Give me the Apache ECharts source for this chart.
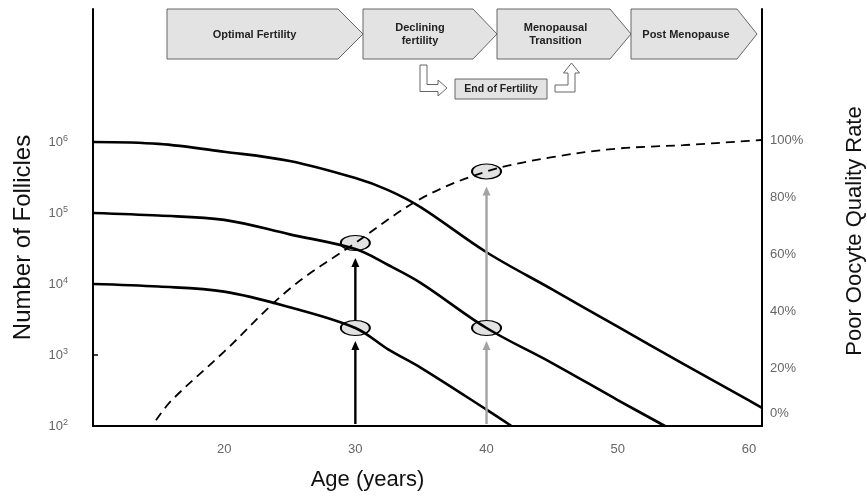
<!DOCTYPE html>
<html>
<head>
<meta charset="utf-8">
<script src="https://cdn.jsdelivr.net/npm/echarts@6/dist/echarts.min.js"></script>
<style>
  html, body { margin: 0; padding: 0; background: #fff; }
  #chart { width: 867px; height: 501px; }
</style>
</head>
<body>
<div id="chart"></div>
<script>
// Follicle pools (count, log scale) by age in years
const agesA = [10, 15, 20, 25, 30, 32.5, 35, 40, 45, 50, 55, 60, 61];
const folliclesA = [1000000, 940000, 730000, 540000, 310000, 210000, 120000, 28000, 8400, 2500, 750, 230, 180];
const agesB = [10, 15, 20, 25, 30, 32.5, 35, 40, 45, 50, 53.6];
const folliclesB = [100000, 92000, 80000, 50000, 31000, 18500, 10300, 2400, 770, 232, 100];
const agesC = [10, 15, 20, 25, 30, 32.5, 35, 40, 41.9];
const folliclesC = [10000, 9200, 7800, 4700, 2400, 1200, 660, 170, 100];

// Poor oocyte quality rate (%) by age
const agesQ = [14.8, 16, 20, 25, 30, 35, 40, 45, 50, 55, 60, 61];
const poorRate = [2, 9, 26, 48, 64, 79.5, 89, 94, 97, 98.2, 99.7, 100];

// Highlighted ages: follicle count on the lower curve and poor-quality rate
const markerAges = [30, 40];
const lowFollicles = [2400, 2400];
const highPoorRate = [64, 89];

// Axis ticks
const ageTicks = [20, 30, 40, 50, 60];
const follicleExponents = [2, 3, 4, 5, 6];
const rateTicks = [0, 20, 40, 60, 80, 100];

// Reproductive phases across the top
const phaseLabels = ['Optimal Fertility', 'Declining\nfertility', 'Menopausal\nTransition', 'Post Menopause'];
const endLabel = 'End of Fertility';

(function () {
const FONT = '"Liberation Sans", Arial, Helvetica, sans-serif';
const chart = echarts.init(document.getElementById('chart'), null, { renderer: 'canvas' });

const toLog = (ages, counts) => ages.map((a, i) => [a, Math.log10(counts[i])]);
const curveStyle = { color: '#000', width: 2.6 };

chart.setOption({
  animation: false,
  backgroundColor: '#fff',
  grid: { left: 93, right: 105, top: 9, bottom: 75, containLabel: false, outerBoundsMode: 'none' },
  xAxis: {
    type: 'value', min: 10, max: 61,
    axisLine: { show: true, lineStyle: { color: '#000', width: 2 } },
    axisTick: { show: false },
    splitLine: { show: false },
    axisLabel: { customValues: ageTicks, margin: 17, color: '#666', fontSize: 13, fontFamily: FONT },
    name: 'Age (years)', nameLocation: 'middle', nameGap: 43,
    nameTextStyle: { fontSize: 22, color: '#111', fontFamily: FONT, padding: [0, 120, 0, 0] }
  },
  yAxis: [
    {
      type: 'value', min: 2, max: 7.873, position: 'left',
      axisLine: { show: true, lineStyle: { color: '#000', width: 2 } },
      axisTick: { show: true, inside: true, length: 5, customValues: [3, 4, 5, 6], lineStyle: { color: '#000', width: 1.5 } },
      splitLine: { show: false },
      axisLabel: {
        customValues: follicleExponents, margin: 25,
        formatter: v => '{b|10}{s|' + v + '}',
        rich: {
          b: { fontSize: 13, color: '#666', fontFamily: FONT },
          s: { fontSize: 9, color: '#666', fontFamily: FONT, padding: [0, 0, 7, 0] }
        }
      },
      name: 'Number of Follicles', nameLocation: 'middle', nameRotate: 90, nameGap: 58,
      nameTextStyle: { fontSize: 24, color: '#111', fontFamily: FONT, padding: [0, 40, 0, 0] }
    },
    {
      type: 'value', min: 0, max: 145.8, position: 'right',
      axisLine: { show: true, lineStyle: { color: '#000', width: 2 } },
      axisTick: { show: false },
      splitLine: { show: false },
      axisLabel: {
        customValues: rateTicks, margin: 8, color: '#666', fontSize: 13, fontFamily: FONT,
        formatter: v => v === 0 ? '{z|0%}' : v + '%',
        rich: { z: { fontSize: 13, color: '#666', fontFamily: FONT, padding: [0, 0, 26, 0] } }
      },
      name: 'Poor Oocyte Quality Rate', nameLocation: 'middle', nameRotate: 90, nameGap: 82,
      nameTextStyle: { fontSize: 22, color: '#111', fontFamily: FONT, padding: [0, 27, 0, 0] }
    }
  ],
  series: [
    { type: 'line', yAxisIndex: 0, data: toLog(agesA, folliclesA), symbol: 'none', smooth: 0.35, lineStyle: curveStyle, z: 3 },
    { type: 'line', yAxisIndex: 0, data: toLog(agesB, folliclesB), symbol: 'none', smooth: 0.35, lineStyle: curveStyle, z: 3 },
    { type: 'line', yAxisIndex: 0, data: toLog(agesC, folliclesC), symbol: 'none', smooth: 0.35, lineStyle: curveStyle, z: 3 },
    { type: 'line', yAxisIndex: 1, data: agesQ.map((a, i) => [a, poorRate[i]]), symbol: 'none', smooth: 0.35,
      lineStyle: { color: '#000', width: 1.8, type: [9, 6] }, z: 3 },
    { type: 'scatter', yAxisIndex: 0, data: toLog(markerAges, lowFollicles), symbol: 'circle', symbolSize: [29, 15],
      itemStyle: { color: '#e2e2e2', borderColor: '#000', borderWidth: 1.5, opacity: 1 }, z: 1, silent: true },
    { type: 'scatter', yAxisIndex: 1, data: markerAges.map((a, i) => [a, highPoorRate[i]]), symbol: 'circle', symbolSize: [29, 15],
      itemStyle: { color: '#e2e2e2', borderColor: '#000', borderWidth: 1.5, opacity: 1 }, z: 1, silent: true }
  ]
});

// Vertical arrows at the highlighted ages, placed through the axes' own scales
const arrowColors = ['#000', '#a3a3a3'];
function arrow(x, yFrom, yTip, color) {
  return [
    { type: 'line', shape: { x1: x, y1: yFrom, x2: x, y2: yTip + 7 }, style: { stroke: color, lineWidth: 2.4 }, z: 5 },
    { type: 'polygon', shape: { points: [[x, yTip], [x - 4, yTip + 9], [x + 4, yTip + 9]] }, style: { fill: color }, z: 5 }
  ];
}
const graphics = [];
markerAges.forEach((age, i) => {
  const base = chart.convertToPixel({ seriesIndex: 0 }, [age, 2]);
  const low = chart.convertToPixel({ seriesIndex: 0 }, [age, Math.log10(lowFollicles[i])]);
  const high = chart.convertToPixel({ seriesIndex: 3 }, [age, highPoorRate[i]]);
  graphics.push(...arrow(base[0], base[1] - 2, low[1] + 13, arrowColors[i]));
  graphics.push(...arrow(low[0], low[1] - 8, high[1] + 15, arrowColors[i]));
});

// Phase banner: pentagon arrows with labels
const boxFill = '#e3e3e3', boxStroke = '#666';
const phaseBoxes = [
  { x0: 167, x1: 338, tip: 363 },
  { x0: 363, x1: 473, tip: 497 },
  { x0: 497, x1: 610, tip: 631 },
  { x0: 631, x1: 737, tip: 757 }
];
const boxTop = 9, boxBot = 59, boxMid = 34;
phaseBoxes.forEach((b, i) => {
  graphics.push({
    type: 'polygon',
    shape: { points: [[b.x0, boxTop], [b.x1, boxTop], [b.tip, boxMid], [b.x1, boxBot], [b.x0, boxBot]] },
    style: { fill: boxFill, stroke: boxStroke, lineWidth: 1 }, z: 10
  });
  graphics.push({
    type: 'text', z: 11,
    style: {
      text: phaseLabels[i], x: (b.x0 + b.x1) / 2 + 2, y: boxMid + 0.5,
      align: 'center', verticalAlign: 'middle',
      fontSize: 11, fontWeight: 'bold', fontFamily: FONT, fill: '#222', lineHeight: 13.5
    }
  });
});

// End-of-fertility box with bent arrows on each side
graphics.push({
  type: 'rect', shape: { x: 455, y: 79, width: 92, height: 20 },
  style: { fill: boxFill, stroke: boxStroke, lineWidth: 1 }, z: 10
});
graphics.push({
  type: 'text', z: 11,
  style: { text: endLabel, x: 501, y: 89.5, align: 'center', verticalAlign: 'middle',
    fontSize: 10.5, fontWeight: 'bold', fontFamily: FONT, fill: '#222' }
});
graphics.push({
  type: 'polygon', z: 10,
  shape: { points: [[420, 65], [427, 65], [427, 84.5], [438, 84.5], [438, 80], [447, 88], [438, 96], [438, 91.5], [420, 91.5]] },
  style: { fill: '#fff', stroke: boxStroke, lineWidth: 1 }
});
graphics.push({
  type: 'polygon', z: 10,
  shape: { points: [[555, 85], [568, 85], [568, 73], [563.5, 73], [571.5, 63], [579.5, 73], [575, 73], [575, 92], [555, 92]] },
  style: { fill: '#fff', stroke: boxStroke, lineWidth: 1 }
});

chart.setOption({ graphic: graphics });
})();
</script>
</body>
</html>
